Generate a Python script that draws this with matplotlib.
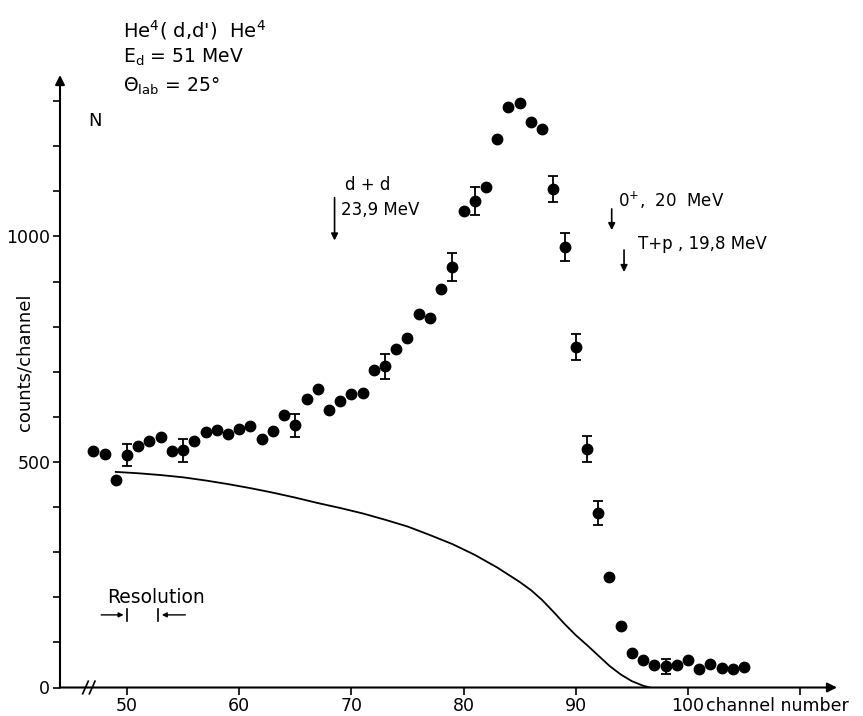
import matplotlib
matplotlib.use("Agg")
import matplotlib.pyplot as plt

plt.rcParams['font.family'] = ['DejaVu Sans']
plt.rcParams['mathtext.default'] = 'regular'

# ---- data ----
channels = list(range(47, 106))
counts = [525, 518, 459, 515, 535, 546, 555, 525, 526, 546,
          566, 570, 563, 574, 579, 552, 569, 605, 581, 639,
          661, 615, 636, 650, 654, 705, 712, 751, 774, 829,
          820, 883, 932, 1056, 1078, 1110, 1215, 1288, 1297, 1254,
          1238, 1106, 977, 755, 529, 387, 246, 137, 77, 60,
          49, 47, 49, 60, 41, 52, 43, 41, 45]
err_channels = [50, 55, 65, 73, 79, 81, 88, 89, 90, 91, 92, 98]
err_values = [24, 25, 25, 27, 31, 31, 29, 31, 29, 28, 27, 16]

curve_x = [49, 51, 53, 55, 57, 59, 61, 63, 65, 67, 69, 71, 73, 75, 77, 79,
           81, 83, 85, 86, 87, 88, 89, 90, 91, 92, 93, 94, 95, 96, 96.6]
curve_y = [478, 475, 471, 466, 459, 451, 442, 432, 421, 409, 398, 386, 372,
           357, 338, 318, 294, 266, 234, 216, 194, 168, 141, 116, 94, 71,
           48, 29, 14, 4, 0]

xticks = [50, 60, 70, 80, 90, 100, 110]
xticklabels = ['50', '60', '70', '80', '90', '100', '']
yticks = list(range(0, 1400, 100))
yticklabels = ['0' if v == 0 else '500' if v == 500 else '1000' if v == 1000 else '' for v in yticks]

W, H = 863, 716
fig = plt.figure(figsize=(W / 100, H / 100), dpi=100)
ax = fig.add_axes([60 / W, (H - 687.5) / H, (837 - 60) / W, (687.5 - 75) / H])
ax.set_xlim(44.03, 113.28)
ax.set_ylim(0, 1358)

for s in ax.spines.values():
    s.set_visible(False)

# axes with arrows
ax.annotate('', xy=(0, 1), xytext=(0, 0), xycoords='axes fraction',
            arrowprops=dict(arrowstyle='-|>', lw=1.5, color='k', mutation_scale=14,
                            shrinkA=0, shrinkB=0))
ax.annotate('', xy=(1, 0), xytext=(0, 0), xycoords='axes fraction',
            arrowprops=dict(arrowstyle='-|>', lw=1.5, color='k', mutation_scale=14,
                            shrinkA=0, shrinkB=0))
# axis break marks
for bx in (46.3, 46.9):
    ax.plot([bx - 0.25, bx + 0.25], [-14, 14], color='k', lw=1.2, clip_on=False)

ax.set_xticks(xticks)
ax.set_xticklabels(xticklabels, fontsize=12.5)
ax.set_yticks(yticks)
ax.set_yticklabels(yticklabels, fontsize=12.5)
ax.tick_params(direction='out', length=5, width=1.2, pad=2)

# curve
ax.plot(curve_x, curve_y, color='k', lw=1.3)

# data points
ax.plot(channels, counts, 'o', color='k', ms=7.5, zorder=3)
err_y = [counts[channels.index(c)] for c in err_channels]
ax.errorbar(err_channels, err_y, yerr=err_values, fmt='none', ecolor='k',
            elinewidth=1.3, capsize=3.5, capthick=1.3, zorder=3)

# level arrows
arrow_kw = dict(arrowstyle='-|>', lw=1.2, color='k', mutation_scale=10,
                shrinkA=0, shrinkB=0)
ax.annotate('', xy=(68.5, 991), xytext=(68.5, 1086), arrowprops=arrow_kw)
ax.text(69.4, 1114, 'd + d', fontsize=12, va='center', ha='left')
ax.text(69.1, 1059, '23,9 MeV', fontsize=12, va='center', ha='left')

ax.annotate('', xy=(93.2, 1014), xytext=(93.2, 1061), arrowprops=arrow_kw)
ax.text(93.8, 1079, r'0$^{+}$,  20  MeV', fontsize=12, va='center', ha='left')

ax.annotate('', xy=(94.3, 921), xytext=(94.3, 970), arrowprops=arrow_kw)
ax.text(95.5, 983, 'T+p , 19,8 MeV', fontsize=12, va='center', ha='left')

# resolution marker
ax.text(48.2, 200, 'Resolution', fontsize=13.5, va='center', ha='left')
ax.annotate('', xy=(49.7, 161), xytext=(47.7, 161),
            arrowprops=dict(arrowstyle='-|>', lw=1.0, color='k', mutation_scale=7,
                            shrinkA=0, shrinkB=0))
ax.plot([50, 50], [147, 175], color='k', lw=1.2)
ax.plot([52.8, 52.8], [147, 175], color='k', lw=1.2)
ax.annotate('', xy=(53.1, 161), xytext=(55.2, 161),
            arrowprops=dict(arrowstyle='-|>', lw=1.0, color='k', mutation_scale=7,
                            shrinkA=0, shrinkB=0))

# labels
fig.text(706 / W, 1 - 706 / H, 'channel number', fontsize=12.5, va='center', ha='left')
fig.text(25 / W, 1 - 362 / H, 'counts/channel', fontsize=13, va='center', ha='center',
         rotation=90)
fig.text(95 / W, 1 - 121 / H, 'N', fontsize=13, va='center', ha='center')

fig.text(123 / W, 1 - 30 / H, r"He$^4$( d,d')  He$^4$", fontsize=14, va='center', ha='left')
fig.text(123 / W, 1 - 57 / H, r"E$_d$ = 51 MeV", fontsize=13.5, va='center', ha='left')
fig.text(123 / W, 1 - 86 / H, r"$\Theta_{lab}$ = 25°", fontsize=13.5, va='center', ha='left')

fig.savefig('out.png', dpi=100)
